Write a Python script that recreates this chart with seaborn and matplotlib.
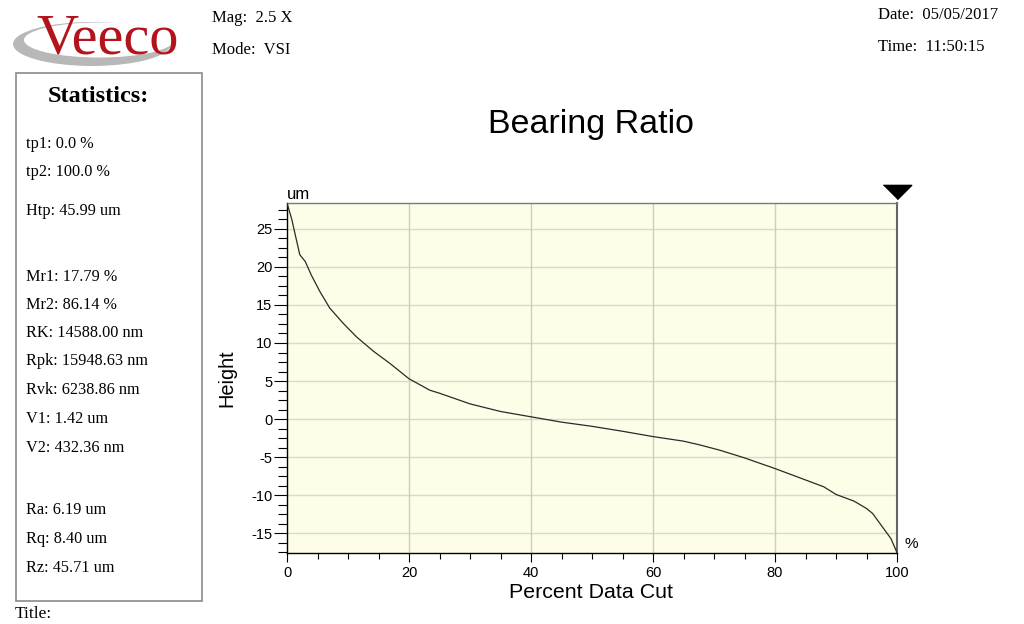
import matplotlib
matplotlib.use("Agg")
import matplotlib.pyplot as plt
from matplotlib.patches import Rectangle, Ellipse
from matplotlib.ticker import MultipleLocator
import seaborn as sns
import pandas as pd

# ---- data ----
pct = [0, 0.8, 1.3, 2.1, 3.0, 4.0, 5.4, 7.0, 9.2, 11.4, 14.2, 16.9, 20, 23.4, 25,
       27.5, 30, 35, 40, 45, 50, 55, 60, 65, 67.7, 71, 75, 80, 85, 88, 90, 93,
       95, 96, 97, 98, 99, 100]
height = [28.4, 26.2, 24.4, 21.6, 20.7, 18.9, 16.75, 14.6, 12.6, 10.8, 8.9, 7.3,
          5.3, 3.8, 3.4, 2.7, 2.0, 1.0, 0.3, -0.4, -0.95, -1.6, -2.3, -2.9, -3.4,
          -4.1, -5.1, -6.5, -8.0, -8.9, -9.9, -10.8, -11.75, -12.4, -13.5, -14.6,
          -15.7, -17.55]
x_ticks = [0, 20, 40, 60, 80, 100]
y_ticks = [-15, -10, -5, 0, 5, 10, 15, 20, 25]
stats_lines = [
    ("tp1: 0.0 %", 144), ("tp2: 100.0 %", 172), ("Htp: 45.99 um", 211),
    ("Mr1: 17.79 %", 277), ("Mr2: 86.14 %", 305), ("RK: 14588.00 nm", 333),
    ("Rpk: 15948.63 nm", 361), ("Rvk: 6238.86 nm", 390), ("V1: 1.42 um", 419),
    ("V2: 432.36 nm", 448), ("Ra: 6.19 um", 510), ("Rq: 8.40 um", 539),
    ("Rz: 45.71 um", 568),
]
title = "Bearing Ratio"
xlabel = "Percent Data Cut"
ylabel = "Height"

df = pd.DataFrame({"pct": pct, "height": height})

sns.set_style("white")
plt.rcParams["font.family"] = ["Liberation Sans", "DejaVu Sans"]
plt.rcParams["axes.unicode_minus"] = False
plt.rcParams["text.color"] = "black"
plt.rcParams["axes.labelcolor"] = "black"
plt.rcParams["xtick.color"] = "black"
plt.rcParams["ytick.color"] = "black"

W, H = 1024, 624
fig = plt.figure(figsize=(W / 100, H / 100), dpi=100)
fig.patch.set_facecolor("white")

def fx(px):
    return px / W

def fy(py):
    return 1 - py / H

ax = fig.add_axes([fx(287), fy(553), fx(897) - fx(287), fy(203) - fy(553)])
ax.set_facecolor("#FEFDE8")

sns.lineplot(data=df, x="pct", y="height", ax=ax, color="#2a2a2a",
             linewidth=0.9, sort=True, zorder=3)

ax.set_xlim(0, 100)
ax.set_ylim(-17.6, 28.4)
ax.set_xticks(x_ticks)
ax.set_yticks(y_ticks)
ax.xaxis.set_minor_locator(MultipleLocator(5))
ax.yaxis.set_minor_locator(MultipleLocator(1.25))
ax.tick_params(axis="y", which="major", direction="out", length=9.4, width=0.8,
               pad=1, labelsize=10.5, colors="black", left=True)
ax.tick_params(axis="y", which="minor", direction="out", length=6.3, width=0.8,
               left=True, colors="black")
ax.tick_params(axis="x", which="major", direction="out", length=6.5, width=0.8,
               pad=3, labelsize=10.5, bottom=True, colors="black")
ax.tick_params(axis="x", which="minor", direction="out", length=4.5, width=0.8,
               bottom=True, colors="black")

ax.grid(False)
for yv in y_ticks:
    ax.axhline(yv, color="#DAD9CA", linewidth=1.0, zorder=1)
for xv in x_ticks[1:-1]:
    ax.axvline(xv, color="#CDCDC4", linewidth=1.0, zorder=1)

ax.spines["left"].set_color("black")
ax.spines["bottom"].set_color("black")
ax.spines["left"].set_linewidth(1.0)
ax.spines["bottom"].set_linewidth(1.0)
ax.spines["top"].set_color("#7a7a7a")
ax.spines["top"].set_linewidth(1.0)
ax.spines["right"].set_color("#666666")
ax.spines["right"].set_linewidth(1.5)

ax.set_xlabel("")
ax.set_ylabel("")
fig.text(fx(591), fy(592), xlabel, ha="center", va="center", fontsize=15.4)
fig.text(fx(227), fy(378), ylabel, ha="center", va="center", fontsize=14.4,
         rotation=90)
fig.text(fx(591), fy(124), title, ha="center", va="center", fontsize=24.5)

ax.text(0, 1.003, "um", transform=ax.transAxes, ha="left", va="bottom",
        fontsize=12)
ax.text(1.013, 0.027, "%", transform=ax.transAxes, ha="left", va="center",
        fontsize=11)

# cursor triangle at 100 %
tri = [(-1, 0.5), (1, 0.5), (0, -0.5)]
ax.plot([100], [1.031], marker=tri, markersize=20.5, color="black",
        transform=ax.get_xaxis_transform(), clip_on=False, linestyle="none")

# ---- statistics box ----
serif = ["Liberation Serif", "DejaVu Serif"]
box = Rectangle((fx(16), fy(601)), fx(202) - fx(16), fy(73) - fy(601),
                transform=fig.transFigure, facecolor="white",
                edgecolor="#8a8a8a", linewidth=1.2, zorder=0)
fig.patches.append(box)
fig.text(fx(98), fy(96), "Statistics:", ha="center", va="center",
         fontsize=17.5, fontweight="bold", family=serif)
for txt, yy in stats_lines:
    fig.text(fx(26), fy(yy), txt, ha="left", va="center", fontsize=11.7,
             family=serif)
fig.text(fx(15), fy(614), "Title:", ha="left", va="center", fontsize=12.5,
         family=serif)

# ---- header ----
fig.text(fx(212), fy(18), "Mag:  2.5 X", ha="left", va="center", fontsize=12,
         family=serif)
fig.text(fx(212), fy(50), "Mode:  VSI", ha="left", va="center", fontsize=12,
         family=serif)
fig.text(fx(878), fy(15), "Date:  05/05/2017", ha="left", va="center",
         fontsize=12, family=serif)
fig.text(fx(878), fy(47), "Time:  11:50:15", ha="left", va="center",
         fontsize=12, family=serif)

# Veeco logo: grey swoosh + red serif word
sw_outer = Ellipse((fx(92), fy(44)), fx(158), 44 / H, angle=0,
                   transform=fig.transFigure, facecolor="#B8B8B8",
                   edgecolor="none", zorder=1)
sw_inner = Ellipse((fx(99), fy(40)), fx(150), 35 / H, angle=0,
                   transform=fig.transFigure, facecolor="white",
                   edgecolor="none", zorder=2)
fig.patches.append(sw_outer)
fig.patches.append(sw_inner)
fig.text(fx(108), fy(53), "Veeco", ha="center", va="baseline", fontsize=42,
         color="#B3141C", family=serif, zorder=5)

fig.savefig("out.png", dpi=100, facecolor="white")
